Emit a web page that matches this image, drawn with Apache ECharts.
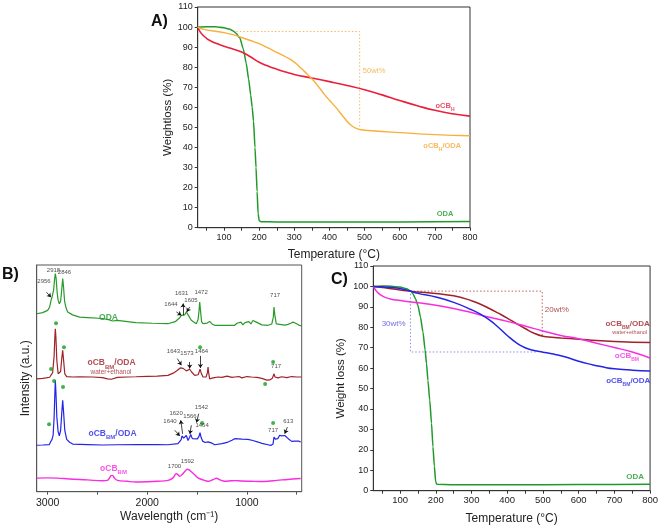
<!DOCTYPE html>
<html><head><meta charset="utf-8">
<script src="https://cdn.jsdelivr.net/npm/echarts@6/dist/echarts.min.js"></script>
<style>html,body{margin:0;padding:0;background:#fff}#c{width:661px;height:531px}</style>
</head><body><div id="c"></div>
<script>
// ---------- Panel A : TGA (°C, wt%) ----------
const A_ODA = [[25,100],[50,100.2],[75,100.1],[100,99.6],[115,99],[125,98.2],[135,96.8],[145,94.5],[155,89],[163,82],[170,74],[176,66],[180,60],[184,53],[188,40],[191,30],[194,18],[197,7],[200,3.5],[205,3],[250,2.9],[400,2.8],[600,2.9],[800,3.1]];
const A_oCBH = [[25,100],[32,97.6],[40,95.9],[50,94.4],[62,93.1],[75,92],[100,90.4],[125,89.1],[150,87.6],[175,85.2],[200,82.5],[225,80.6],[250,79],[275,77.6],[300,76.4],[350,74.6],[400,72.8],[450,70.9],[500,68.8],[550,66.2],[600,63.4],[650,60.8],[700,58.5],[750,56.8],[800,55.6]];
const A_oCBH_ODA = [[25,100],[40,99],[60,98.3],[80,97.8],[100,97.2],[125,96.2],[150,94.8],[175,93.3],[200,91.7],[225,89.6],[250,87.4],[275,85.2],[300,82.5],[320,79.3],[340,76],[355,73.2],[370,70],[385,66.6],[400,63.5],[420,59.6],[440,55.2],[460,51.3],[475,49.6],[490,48.8],[520,48.3],[600,47.4],[700,46.4],[800,45.8]];
const A_box50 = [[125,97.8],[486,97.8],[486,49.5]];
const A_labels = [[729,60.1,'oCB_{H}','#e8203c'],[721,40.3,'oCB_{H}/ODA','#f5a937'],[729,6.3,'ODA','#1f9a2a']];
const A_note = [[527,77.5,'50wt%','#f5a937']];

// ---------- Panel B : FTIR (cm-1, a.u. with offsets) ----------
const B_ODA = [[3110,78.5],[3050,79],[3000,80],[2980,81.5],[2966,84.4],[2955,86],[2940,89],[2930,94],[2923,96.2],[2915,94],[2905,88],[2895,84.5],[2883,82.9],[2870,84],[2860,88.5],[2849,94],[2840,90],[2830,84],[2815,81],[2799,79.3],[2750,78],[2680,77],[2600,76.8],[2450,76.4],[2380,75.8],[2350,75.3],[2300,75.6],[2115,74.6],[1950,74.3],[1792,74.1],[1720,75],[1680,76.5],[1658,77.8],[1640,78.5],[1625,78],[1608,79.3],[1590,78],[1558,75.6],[1508,74.1],[1490,76],[1480,80],[1474,83.7],[1466,80],[1455,75],[1441,74.1],[1400,74.4],[1374,75.1],[1350,74],[1323,73.4],[1200,73.4],[1123,73.4],[1100,74.3],[1080,73.5],[1060,74.8],[1040,73.6],[1020,74.6],[1000,73.8],[980,75],[960,74],[940,75.5],[922,75.6],[905,74.8],[888,74],[850,73.6],[788,73.4],[750,74],[735,77],[728,81.5],[720,78],[705,74],[688,73.6],[620,73.5],[587,73.8],[560,74.3],[537,74.8],[510,74.3],[480,73.5],[450,73.1]];
const B_oCBBM_ODA_we = [[3110,49.8],[3050,50],[3017,50.2],[2980,50.5],[2966,51.3],[2950,52.5],[2935,60],[2928,68],[2923,71.9],[2917,68],[2908,58],[2895,52],[2883,51.3],[2870,53],[2858,59],[2849,62.4],[2840,58],[2828,52],[2809,50.8],[2750,50.6],[2680,50.7],[2550,50.6],[2450,50.3],[2400,49.8],[2383,49.1],[2360,49.6],[2300,50.4],[2200,50.6],[2115,50.7],[2000,50.9],[1900,51],[1792,51.3],[1740,52.3],[1700,53.5],[1670,54.6],[1658,55],[1640,54.4],[1620,53.6],[1608,53.3],[1590,53.6],[1574,54],[1555,52.8],[1524,51.3],[1490,51.6],[1478,53],[1470,54],[1460,52.5],[1441,50.6],[1410,50.6],[1396,52.5],[1390,55],[1384,52.5],[1374,49.8],[1340,50.2],[1290,50.6],[1250,50.4],[1200,51],[1150,50.4],[1123,50.6],[1080,50.8],[1050,50.2],[1000,50.8],[955,50.6],[900,50.4],[850,50],[800,49.2],[770,49.3],[745,50],[728,52],[718,50.6],[700,50],[688,50.2],[650,50.7],[600,50.3],[550,50.8],[500,50.6],[453,50.6]];
const B_oCBBM_ODA = [[3110,20.5],[3050,20.6],[2983,20.8],[2970,22],[2956,23.1],[2945,25],[2935,33],[2928,43],[2923,49.1],[2917,44],[2908,33],[2895,26.5],[2883,24.6],[2870,27],[2858,35],[2849,40.3],[2840,35],[2828,27],[2809,23.1],[2780,21.8],[2749,21],[2600,20.8],[2450,20.6],[2300,20.7],[2100,20.8],[1900,20.8],[1792,20.7],[1692,21.2],[1660,23],[1651,24.6],[1635,23.6],[1625,23.3],[1608,24.8],[1591,22.6],[1575,24],[1564,25.2],[1548,23.4],[1531,22.6],[1497,23.3],[1480,24.5],[1471,26],[1460,24],[1444,22.3],[1420,21.7],[1407,21.3],[1390,22],[1374,22.6],[1350,21.4],[1323,20.7],[1250,21.2],[1190,21.9],[1150,22.7],[1123,23.4],[1050,23.2],[989,23.1],[940,22.6],[888,21.9],[850,21.3],[788,20.7],[760,20.4],[748,20.1],[738,21],[728,24.1],[715,23.2],[704,23.5],[690,23.4],[671,24.9],[650,24.6],[637,25.2],[620,24.8],[604,24.1],[585,23.4],[570,22.9],[550,22.2],[537,21.9],[520,22.3],[503,22.6],[480,22.3],[460,21.9]];
const B_oCBBM = [[3110,6],[3000,6.1],[2900,6],[2783,5.6],[2600,5.2],[2450,4.8],[2400,5],[2383,5.8],[2365,7],[2349,7.2],[2330,6],[2299,5],[2200,4.6],[2115,4.3],[2000,4.4],[1900,4.6],[1792,5],[1742,6.1],[1708,7.9],[1690,7.4],[1675,6.8],[1650,7.6],[1625,8.8],[1598,9.9],[1580,9.6],[1558,8.8],[1520,7.3],[1491,6.1],[1440,5.2],[1390,4.6],[1340,5.3],[1307,5.9],[1270,5.2],[1223,4.6],[1160,4.8],[1123,4.9],[1050,4.7],[955,4.6],[880,4.5],[788,4.6],[700,5],[621,5.3],[540,5.6],[460,5.8]];
const B_dots = [[2916,74.3],[2836,63.7],[2966,54.1],[2936,48.8],[2846,46.2],[1470,63.7],[737,57.2],[817,47.5],[1450,30.3],[737,30.3],[2986,29.8]];
const B_peakLabels = [[3037,92.1,'2956'],[2941,97.3,'2918'],[2831,96.4,'2846'],[1762,81.9,'1644'],[1656,86.8,'1631'],[1561,83.7,'1605'],[1460,87.6,'1472'],[717,85.9,'717'],
  [1737,61.2,'1643'],[1601,60.3,'1573'],[1456,61.2,'1464'],[707,54.6,'717'],
  [1456,36.5,'1542'],[1711,33.8,'1620'],[1571,32.5,'1566'],[1772,30.3,'1640'],[1450,28.5,'1464'],[737,26.4,'717'],[585,30.3,'613'],
  [1727,10.5,'1700'],[1596,12.7,'1592']];
const B_arrows = [[3013,88,2966,85.8],[1708,79.3,1658,77.8],[1641,77.8,1641,83],[1574,81.5,1604,79.3],
  [1698,58.7,1658,55.8],[1574,57.2,1574,54.3],[1467,59.9,1467,54.6],
  [1724,27.1,1674,24.6],[1645,25.5,1664,31.5],[1558,29.3,1572,25.4],[1484,34.4,1506,30.5],[594,28.5,620,25.6]];
const B_curveLabels = [[2389,76.2,'ODA','#1f9a2a'],[2359,56.2,'oCB_{BM}/ODA','#a0222a'],[2349,25,'oCB_{BM}/ODA','#2424e8'],[2339,9.6,'oCB_{BM}','#f92ce0']];
const B_smallLabels = [[2364,52.2,'water+ethanol','#a0222a']];

// ---------- Panel C : TGA (°C, wt%) ----------
const C_ODA = [[25,100],[50,100.2],[75,100.1],[100,99.7],[118,98.9],[130,97.8],[136,96.4],[143,94],[150,90.7],[157,85],[164,77.7],[170,69],[174,62.3],[178,54],[183,44.4],[188,33],[192,21.5],[196,12],[199.6,4.4],[203,3.1],[250,2.9],[400,2.9],[600,3],[800,3.2]];
const C_oCBBM_ODA_we = [[25,100],[50,99.5],[75,98.9],[100,98.3],[125,97.7],[150,97.3],[200,96.5],[250,95.4],[300,93],[325,91.3],[350,89.2],[375,86.9],[400,84.5],[425,81.9],[450,79.4],[475,77.1],[500,75.6],[525,75.1],[550,74.8],[600,74.2],[650,73.5],[700,73],[750,72.7],[800,72.5]];
const C_oCBBM = [[25,100],[30,98.6],[35,97.4],[45,95.9],[55,94.9],[70,94],[90,93.3],[125,92.5],[150,92],[200,90.8],[250,89.2],[300,87.2],[350,84.9],[400,82.9],[450,80.6],[500,78.2],[550,76],[600,74.4],[650,72.2],[700,70.1],[750,67.9],[800,65]];
const C_oCBBM_ODA = [[25,100],[50,99.8],[75,99.5],[100,99],[125,97.9],[150,96.6],[200,94.8],[250,92.2],[300,88.6],[325,86.4],[350,83.6],[375,80],[400,76],[425,72.5],[450,70],[475,68.6],[500,67.8],[525,67],[550,66.1],[575,64.8],[600,63.4],[625,62.2],[650,61.2],[675,60.3],[700,59.7],[750,59],[800,58.6]];
const C_box20 = [[128,97.7],[498,97.7],[498,76]];
const C_box30 = [[129,96.4],[129,67.9],[485,67.9]];
const C_labels = [[737,81.1,'oCB_{BM}/ODA','#a0222a'],[735,65.6,'oCB_{BM}','#f92ce0'],[739,53.4,'oCB_{BM}/ODA','#2424e8'],[758,6.4,'ODA','#1f9a2a']];
const C_notes = [[539,88,'20wt%','#a0222a'],[82,81.1,'30wt%','#4a4ae0']];
const C_smallLabels = [[743,77,'water+ethanol','#a0222a']];

const tempLabels = [100,200,300,400,500,600,700,800];
const tempTicks = [50,100,150,200,250,300,350,400,450,500,550,600,650,700,750,800];
const wnLabels = [3000,2000,1000];
const wnTicks = [3000,2500,2000,1500,1000,500];

const FONT = 'Liberation Sans, Arial, Helvetica, sans-serif';
const AX = '#333';

function toRich(t){
  return t.split(/(_\{[^}]*\})/).filter(s=>s.length).map(s=>{
    if(s.startsWith('_{')) return '{s|'+s.slice(2,-1)+'}';
    return '{m|'+s+'}';
  }).join('');
}
function labelSeries(idx, list, size, bold){
  return {type:'scatter', xAxisIndex:idx, yAxisIndex:idx, symbolSize:1, silent:true, z:20,
    itemStyle:{color:'rgba(0,0,0,0)'},
    data: list.map(d=>({value:[d[0],d[1]], label:{
      formatter: toRich(d[2]),
      rich:{m:{fontSize:size, fontWeight:bold?'bold':'normal', color:d[3]||'#222', fontFamily:FONT, verticalAlign:'bottom', padding:[0,0,2.5,0]},
            s:{fontSize:Math.max(5,Math.round(size*0.68)), fontWeight:bold?'bold':'normal', color:d[3]||'#222', fontFamily:FONT, verticalAlign:'bottom'}}
    }})),
    label:{show:true, position:'inside'}
  };
}
function line(idx, data, color, w, smooth, mono){
  const s = {type:'line', xAxisIndex:idx, yAxisIndex:idx, data, showSymbol:false, symbol:'none',
    smooth: smooth, lineStyle:{color, width:w}, z:5, silent:true};
  if (mono) s.smoothMonotone = 'x';
  return s;
}
function dotted(idx, data, color){
  return {type:'line', xAxisIndex:idx, yAxisIndex:idx, data, showSymbol:false, symbol:'none',
    lineStyle:{color, width:1, type:[1.5,2]}, z:2, silent:true};
}
function tempAxis(idx, gap, fs){
  return {type:'value', gridIndex:idx, min:25, max:800,
    axisLine:{show:true, onZero:false, lineStyle:{color:AX, width:1}},
    axisTick:{show:true, customValues:tempTicks, length:3, lineStyle:{color:AX}},
    axisLabel:{customValues:tempLabels, fontSize:fs, color:'#222', fontFamily:FONT, margin:5},
    splitLine:{show:false},
    name:'Temperature (°C)', nameLocation:'middle', nameGap:gap,
    nameTextStyle:{fontSize:12, color:'#222', fontFamily:FONT}};
}
function wtAxis(idx, name, gap){
  return {type:'value', gridIndex:idx, min:0, max:110, interval:10,
    axisLine:{show:true, onZero:false, lineStyle:{color:AX, width:1}},
    axisTick:{show:true, length:3, lineStyle:{color:AX}},
    axisLabel:{fontSize:9, color:'#222', fontFamily:FONT, margin:5},
    splitLine:{show:false},
    name, nameLocation:'middle', nameGap:gap,
    nameTextStyle:{fontSize:11.5, color:'#222', fontFamily:FONT}};
}

const option = {
  animation:false,
  backgroundColor:'#fff',
  grid:[
    {left:197.7, top:7, width:272.3, height:220.7, show:true, borderColor:AX, borderWidth:1, backgroundColor:'transparent'},
    {left:36.7, top:265, width:265, height:226.7, show:true, borderColor:'#555', borderWidth:1, backgroundColor:'transparent'},
    {left:373.3, top:266, width:278.4, height:224.7, show:true, borderColor:AX, borderWidth:1, backgroundColor:'transparent'}
  ],
  xAxis:[
    tempAxis(0, 21, 9),
    {type:'value', gridIndex:1, inverse:true, min:450, max:3110,
      axisLine:{show:true, onZero:false, lineStyle:{color:'#555'}},
      axisTick:{show:true, customValues:wnTicks, length:3, lineStyle:{color:'#555'}},
      axisLabel:{customValues:wnLabels, formatter:v=>String(v), fontSize:10.5, color:'#222', fontFamily:FONT, margin:6},
      splitLine:{show:false},
      name:'Wavelength (cm\u207B\u00B9)', nameLocation:'middle', nameGap:19,
      nameTextStyle:{fontSize:12, color:'#222', fontFamily:FONT}},
    tempAxis(2, 22, 9.5)
  ],
  yAxis:[
    wtAxis(0, 'Weightloss (%)', 24),
    {type:'value', gridIndex:1, min:0, max:100,
      axisLine:{show:true, onZero:false, lineStyle:{color:'#555'}},
      axisTick:{show:false}, axisLabel:{show:false}, splitLine:{show:false},
      name:'Intensity (a.u.)', nameLocation:'middle', nameGap:5,
      nameTextStyle:{fontSize:12, color:'#222', fontFamily:FONT}},
    wtAxis(2, 'Weight loss (%)', 26)
  ],
  series:[
    dotted(0, A_box50, '#f5b866'),
    line(0, A_ODA, '#1f9a2a', 1.5, 0.2, true),
    line(0, A_oCBH, '#e8203c', 1.6, 0.5, false),
    line(0, A_oCBH_ODA, '#f7b03c', 1.4, 0.5, false),
    labelSeries(0, A_labels, 7.5, true),
    labelSeries(0, A_note, 7.5, false),

    line(1, B_ODA, '#2a9a2a', 1.2, false),
    line(1, B_oCBBM_ODA_we, '#a0222a', 1.2, false),
    line(1, B_oCBBM_ODA, '#2424e8', 1.2, false),
    line(1, B_oCBBM, '#f92ce0', 1.4, 0.4, false),
    {type:'scatter', xAxisIndex:1, yAxisIndex:1, data:B_dots, symbol:'circle', symbolSize:4, itemStyle:{color:'#12a01a'}, z:15, silent:true},
    {type:'lines', coordinateSystem:'cartesian2d', xAxisIndex:1, yAxisIndex:1, silent:true, z:15,
      symbol:['none','arrow'], symbolSize:4,
      lineStyle:{color:'#111', width:0.8, opacity:1},
      data:B_arrows.map(a=>({coords:[[a[0],a[1]],[a[2],a[3]]]}))},
    labelSeries(1, B_peakLabels, 6, false),
    labelSeries(1, B_curveLabels, 8.5, true),
    labelSeries(1, B_smallLabels, 6.5, false),

    dotted(2, C_box20, '#c06060'),
    dotted(2, C_box30, '#8c8cf0'),
    line(2, C_ODA, '#1f9a2a', 1.5, 0.2, true),
    line(2, C_oCBBM_ODA_we, '#a0222a', 1.5, 0.5, false),
    line(2, C_oCBBM, '#f92ce0', 1.5, 0.5, false),
    line(2, C_oCBBM_ODA, '#2424e8', 1.5, 0.5, false),
    labelSeries(2, C_labels, 8, true),
    labelSeries(2, C_notes, 8, false),
    labelSeries(2, C_smallLabels, 5.5, false)
  ],
  graphic:[
    {type:'text', left:151, top:14, style:{text:'A)', font:'bold 16px '+FONT, fill:'#111'}},
    {type:'text', left:2, top:267, style:{text:'B)', font:'bold 16px '+FONT, fill:'#111'}},
    {type:'text', left:331, top:272, style:{text:'C)', font:'bold 16px '+FONT, fill:'#111'}}
  ]
};
const chart = echarts.init(document.getElementById('c'), null, {renderer:'canvas'});
chart.setOption(option);
</script>
</body></html>
